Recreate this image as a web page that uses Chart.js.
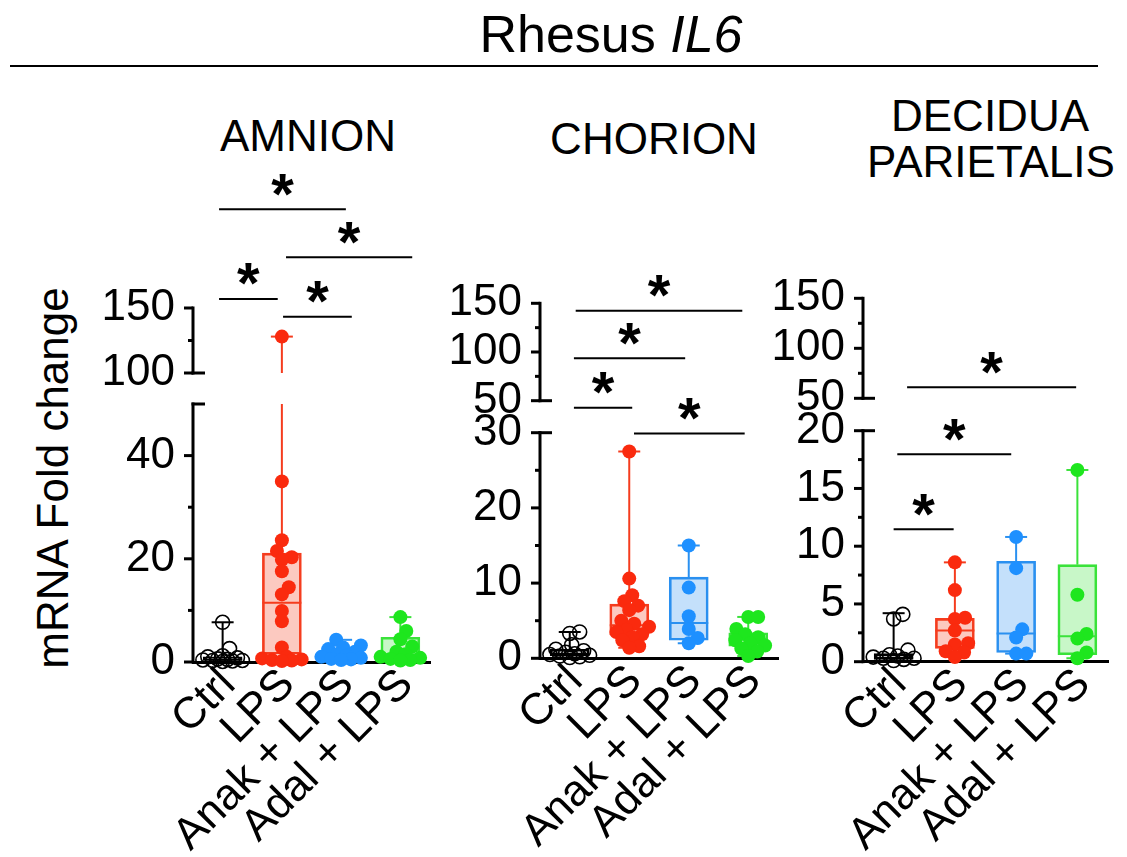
<!DOCTYPE html>
<html>
<head>
<meta charset="utf-8">
<title>Rhesus IL6</title>
<script src="https://cdn.jsdelivr.net/npm/chart.js@4/dist/chart.umd.min.js"></script>
<style>
  html, body { margin: 0; padding: 0; background: #fff; }
  body { position: relative; width: 1127px; height: 857px; overflow: hidden;
         font-family: "Liberation Sans", Arial, sans-serif; color: #000; }
  .txt { position: absolute; line-height: 1; white-space: nowrap; transform: translateX(-50%); }
  #title { font-size: 52px; left: 611px; top: 8px; }
  #rule { position: absolute; left: 10px; top: 65px; width: 1088px; height: 2px; background: #000; }
  .pt { font-size: 44px; }
  #ylab { position: absolute; left: 53px; top: 478px; font-size: 44px; line-height: 1; white-space: nowrap;
          transform: translate(-50%, -50%) rotate(-90deg); }
  canvas { position: absolute; }
</style>
</head>
<body>
<div class="txt" id="title">Rhesus <i>IL6</i></div>
<div id="rule"></div>
<div class="txt pt" style="left:308px;top:114px">AMNION</div>
<div class="txt pt" style="left:654px;top:117px">CHORION</div>
<div class="txt pt" style="left:990px;top:94px">DECIDUA</div>
<div class="txt pt" style="left:991px;top:140px">PARIETALIS</div>
<div id="ylab">mRNA Fold change</div>

<canvas id="c1" width="350" height="707" style="left:90px;top:150px"></canvas>
<canvas id="c2" width="350" height="707" style="left:440px;top:150px"></canvas>
<canvas id="c3" width="367" height="707" style="left:760px;top:150px"></canvas>

<script>
// groups on the x axis
const groups = ['Ctrl', 'LPS', 'Anak + LPS', 'Adal + LPS'];

// AMNION - single values
const amnionCtrl = [7.7, 2.6, 1.2, 1.0, 0.8, 0.6, 0.5, 0.4, 0.3, 0.3, 0.2, 0.1];
const amnionLps = [128, 35, 23.6, 21.5, 20.3, 19.8, 17.6, 14.5, 13.1, 9.9, 7.9, 2.8, 1.0, 0.7, 0.5, 0.4, 0.3, 0.2];
const amnionAnak = [4.3, 3.2, 2.8, 2.5, 2.0, 1.5, 1.2, 1.0, 0.8, 0.6, 0.5, 0.4];
const amnionAdal = [8.7, 6.0, 4.4, 3.0, 2.0, 1.5, 1.0, 0.8, 0.6, 0.4, 0.3];
// box = [min, q1, median, q3, max]
const amnionBox = [[0.1, 0.3, 0.5, 1.0, 7.7], [0.2, 1.5, 11.5, 21.1, 128], [0.4, 0.6, 1.2, 2.7, 4.3], [0.3, 0.5, 1.5, 4.8, 8.7]];
const amnionTicks = [0, 20, 40, 100, 150];
const amnionMinor = [10, 30, 125];
// [from group, to group, level]
const amnionSig = [[-0.06, 2.08, 226], [1.07, 3.2, 189], [-0.06, 0.93, 157], [1.02, 2.18, 143.3]];

// CHORION
const chorionCtrl = [3.5, 3.3, 1.8, 1.2, 1.0, 0.8, 0.6, 0.5, 0.4, 0.3, 0.2, 0.1];
const chorionLps = [27.5, 10.6, 8.4, 7.6, 7.0, 6.4, 5.0, 4.6, 4.2, 3.8, 3.5, 3.2, 2.8, 2.4, 1.6, 1.4];
const chorionAnak = [15.0, 9.4, 5.6, 3.9, 2.7, 2.0];
const chorionAdal = [5.5, 5.5, 3.9, 3.2, 2.8, 2.4, 2.0, 1.7, 1.3, 0.9, 0.3];
const chorionBox = [[0.1, 0.3, 0.6, 1.2, 3.5], [1.4, 3.1, 4.4, 7.2, 27.5], [2.0, 2.4, 4.7, 10.8, 15.0], [0.3, 1.6, 2.6, 3.4, 5.5]];
const chorionTicks = [0, 10, 20, 30, 50, 100, 150];
const chorionMinor = [5, 15, 25, 75, 125];
const chorionSig = [[0.1, 2.9, 142.4], [0.07, 1.94, 93.5], [0.07, 1.05, 45.6], [1.08, 2.94, 29.9]];

// DECIDUA PARIETALIS
const deciduaCtrl = [4.1, 3.7, 1.0, 0.6, 0.5, 0.4, 0.3, 0.3, 0.2, 0.1];
const deciduaLps = [8.6, 6.2, 3.8, 3.7, 2.7, 1.6, 1.5, 0.9, 0.8, 0.4];
const deciduaAnak = [10.8, 8.1, 2.8, 2.1, 0.7, 0.7];
const deciduaAdal = [16.6, 5.8, 2.4, 2.0, 0.8, 0.3];
const deciduaBox = [[0.1, 0.2, 0.35, 0.7, 4.2], [0.4, 1.15, 2.7, 3.75, 8.6], [0.7, 0.8, 2.45, 8.7, 10.8], [0.3, 0.6, 2.2, 8.4, 16.6]];
const deciduaTicks = [0, 5, 10, 15, 20, 50, 100, 150];
const deciduaMinor = [2.5, 7.5, 12.5, 17.5, 75, 125];
const deciduaSig = [[0.22, 2.98, 61], [0.06, 1.92, 17.96], [0.0, 0.98, 11.46]];

const dotColors = ['#000000', '#FA2A0E', '#1E90FF', '#1EE61E'];
const lineColors = ['#000000', '#F53C1E', '#2A90F0', '#3AE23A'];
const boxFills = ['rgba(255,255,255,0)', 'rgba(245,60,30,0.28)', 'rgba(42,144,240,0.28)', 'rgba(58,226,58,0.28)'];

// broken axis: knots are [value, px above x axis]
const panels = {
  c1: { knots: [[0, 0], [50, 258], [100, 289], [150, 354]], segs: [[0, 50], [100, 150]],
        ticks: amnionTicks, minor: amnionMinor, box: amnionBox, sig: amnionSig,
        pts: [amnionCtrl, amnionLps, amnionAnak, amnionAdal], yw: 103, right: 10, xh: 195 },
  c2: { knots: [[0, 0], [30, 225.6], [50, 257.6], [150, 355]], segs: [[0, 30], [50, 150]],
        ticks: chorionTicks, minor: chorionMinor, box: chorionBox, sig: chorionSig,
        pts: [chorionCtrl, chorionLps, chorionAnak, chorionAdal], yw: 100, right: 12, xh: 198.7 },
  c3: { knots: [[0, 0], [20, 231], [50, 263.4], [150, 363.4]], segs: [[0, 20], [50, 150]],
        ticks: deciduaTicks, minor: deciduaMinor, box: deciduaBox, sig: deciduaSig,
        pts: [deciduaCtrl, deciduaLps, deciduaAnak, deciduaAdal], yw: 103, right: 19, xh: 195.3 }
};

function knotPx(knots, v) {
  let i = 1;
  while (i < knots.length - 1 && v > knots[i][0]) i++;
  const [v0, p0] = knots[i - 1], [v1, p1] = knots[i];
  return p0 + (v - v0) * (p1 - p0) / (v1 - v0);
}
function knotVal(knots, p) {
  let i = 1;
  while (i < knots.length - 1 && p > knots[i][1]) i++;
  const [v0, p0] = knots[i - 1], [v1, p1] = knots[i];
  return v0 + (p - p0) * (v1 - v0) / (p1 - p0);
}

// linear scale with a gap in it
const LinearScale = Chart.LinearScale || Chart.registry.getScale('linear');
class BrokenScale extends LinearScale {
  buildTicks() {
    return panels[this.chart.canvas.id].ticks.map(v => ({ value: v }));
  }
  getPixelForValue(v) {
    return this.bottom - knotPx(panels[this.chart.canvas.id].knots, v);
  }
  getValueForPixel(p) {
    return knotVal(panels[this.chart.canvas.id].knots, this.bottom - p);
  }
}
BrokenScale.id = 'broken';
Chart.register(BrokenScale);

// simple beeswarm, offsets in group units
function swarm(vals, knots) {
  const minD = 10, maxW = 20, unit = 60;
  const pts = vals.map((v, i) => ({ i: i, y: knotPx(knots, v), dx: 0 })).sort((a, b) => a.y - b.y);
  const done = [];
  pts.forEach(p => {
    let best = 0, bestD = -1;
    for (let k = 0; k <= 2 * maxW; k++) {
      const dx = (k % 2 ? 1 : -1) * Math.ceil(k / 2);
      let d = Infinity;
      done.forEach(q => { d = Math.min(d, Math.hypot(q.dx - dx, q.y - p.y)); });
      if (d >= minD) { best = dx; break; }
      if (d > bestD) { bestD = d; best = dx; }
    }
    p.dx = best;
    done.push(p);
  });
  const out = [];
  pts.forEach(p => { out[p.i] = p.dx / unit; });
  return out;
}

function line(ctx, x1, y1, x2, y2) {
  ctx.beginPath();
  ctx.moveTo(x1, y1);
  ctx.lineTo(x2, y2);
  ctx.stroke();
}

const extras = {
  id: 'extras',
  // y axis with the break
  beforeDatasetsDraw(chart) {
    const cfg = panels[chart.canvas.id];
    const y = chart.scales.y, ctx = chart.ctx, ax = chart.chartArea.left;
    ctx.save();
    ctx.strokeStyle = '#000';
    ctx.lineWidth = 3;
    cfg.segs.forEach(s => {
      line(ctx, ax, y.getPixelForValue(s[0]) + 1.5, ax, y.getPixelForValue(s[1]) - 1.5);
    });
    cfg.ticks.forEach(v => { const p = y.getPixelForValue(v); line(ctx, ax - 9, p, ax, p); });
    cfg.minor.forEach(v => { const p = y.getPixelForValue(v); line(ctx, ax - 5, p, ax, p); });
    [cfg.segs[0][1], cfg.segs[1][0]].forEach(v => { const p = y.getPixelForValue(v); line(ctx, ax - 1.5, p, ax + 12, p); });
    ctx.restore();
  },
  // whiskers, caps and medians
  afterDatasetDraw(chart, args) {
    if (args.meta.type !== 'bar') return;
    const cfg = panels[chart.canvas.id];
    const x = chart.scales.x, y = chart.scales.y, ctx = chart.ctx;
    const gapLo = cfg.segs[0][1], gapHi = cfg.segs[1][0];
    const vseg = (cx, a, b) => {
      if (a < gapLo && b > gapHi) {
        line(ctx, cx, y.getPixelForValue(a), cx, y.getPixelForValue(gapLo));
        line(ctx, cx, y.getPixelForValue(gapHi), cx, y.getPixelForValue(b));
      } else {
        line(ctx, cx, y.getPixelForValue(a), cx, y.getPixelForValue(b));
      }
    };
    ctx.save();
    ctx.lineWidth = 2;
    cfg.box.forEach((b, i) => {
      const cx = x.getPixelForValue(i);
      ctx.strokeStyle = lineColors[i];
      vseg(cx, b[3], b[4]);
      vseg(cx, b[0], b[1]);
      [b[0], b[4]].forEach(v => { const p = y.getPixelForValue(v); line(ctx, cx - 11, p, cx + 11, p); });
      const pm = y.getPixelForValue(b[2]);
      line(ctx, cx - 19.5, pm, cx + 19.5, pm);
    });
    ctx.restore();
  },
  // significance bars
  afterDraw(chart) {
    const cfg = panels[chart.canvas.id];
    const x = chart.scales.x, y = chart.scales.y, ctx = chart.ctx;
    ctx.save();
    ctx.strokeStyle = '#000';
    ctx.fillStyle = '#000';
    ctx.lineWidth = 2;
    ctx.font = 'bold 58px "Liberation Sans", Arial, sans-serif';
    ctx.textAlign = 'center';
    ctx.textBaseline = 'alphabetic';
    const m = ctx.measureText('*');
    const mid = (m.actualBoundingBoxAscent - m.actualBoundingBoxDescent) / 2;
    cfg.sig.forEach(s => {
      const x1 = x.getPixelForValue(s[0]), x2 = x.getPixelForValue(s[1]), p = y.getPixelForValue(s[2]);
      line(ctx, x1, p, x2, p);
      ctx.fillText('*', (x1 + x2) / 2, p - 24.5 + mid);
    });
    ctx.restore();
  }
};

Chart.defaults.font.family = '"Liberation Sans", Arial, sans-serif';
Chart.defaults.color = '#000';

function buildPanel(id) {
  const cfg = panels[id];
  const datasets = cfg.pts.map((vals, g) => {
    const jit = swarm(vals, cfg.knots);
    return {
      type: 'scatter',
      data: vals.map((v, k) => ({ x: g + jit[k], y: v })),
      pointRadius: 7,
      pointBackgroundColor: g === 0 ? 'rgba(255,255,255,0)' : dotColors[g],
      pointBorderColor: dotColors[g],
      pointBorderWidth: g === 0 ? 1.6 : 0,
      clip: false,
      order: 1
    };
  });
  datasets.push({
    type: 'bar',
    data: cfg.box.map((b, g) => ({ x: g, y: [b[1], b[3]] })),
    backgroundColor: boxFills,
    borderColor: lineColors,
    borderWidth: 2,
    borderSkipped: false,
    barThickness: 39,
    clip: false,
    order: 5
  });

  new Chart(document.getElementById(id), {
    type: 'scatter',
    data: { datasets: datasets },
    options: {
      responsive: false,
      animation: false,
      devicePixelRatio: 1,
      events: [],
      layout: { padding: { top: 20, right: cfg.right, bottom: 0, left: 0 } },
      plugins: { legend: { display: false }, tooltip: { enabled: false } },
      scales: {
        x: {
          type: 'linear',
          offset: false,
          min: -0.5,
          max: 3.5,
          border: { display: true, width: 3, color: '#000' },
          grid: { display: false, drawTicks: false, offset: false },
          ticks: {
            font: { size: 44 },
            color: '#000',
            minRotation: 45,
            maxRotation: 45,
            padding: -3,
            labelOffset: 6,
            autoSkip: false,
            callback: v => groups[v]
          },
          afterBuildTicks: s => { s.ticks = groups.map((g, i) => ({ value: i })); },
          afterFit: s => { s.height = cfg.xh; }
        },
        y: {
          type: 'broken',
          position: 'left',
          offset: false,
          border: { display: false },
          grid: { display: false, drawTicks: true, tickLength: 9 },
          ticks: {
            font: { size: 44 },
            color: '#000',
            padding: 9,
            autoSkip: false,
            callback: v => String(v)
          },
          afterFit: s => { s.width = cfg.yw; }
        }
      }
    },
    plugins: [extras]
  });
}

buildPanel('c1');
buildPanel('c2');
buildPanel('c3');
</script>
</body>
</html>
